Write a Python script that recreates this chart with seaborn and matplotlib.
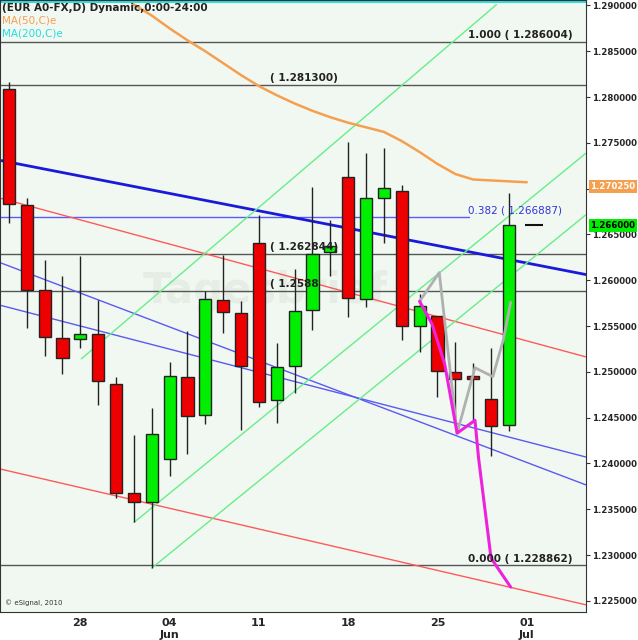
import matplotlib
matplotlib.use("Agg")
import matplotlib.pyplot as plt
import seaborn as sns
import numpy as np
import pandas as pd

sns.set_style("white")
plt.rcParams['font.family'] = ['DejaVu Sans']

opens  = [1.28088,1.26821,1.25890,1.25370,1.25359,1.25413,1.24872,1.23681,1.23583,1.24049,1.24948,1.24525,1.25782,1.25641,1.26410,
          1.24688,1.25067,1.25673,1.26312,1.27125,1.25792,1.26897,1.26973,1.25500,1.25608,1.25002,1.24926,1.24699,1.24417,1.26600]
closes = [1.26832,1.25890,1.25381,1.25154,1.25413,1.24904,1.23681,1.23583,1.24320,1.24959,1.24515,1.25792,1.25652,1.25067,1.24666,
          1.25056,1.25663,1.26291,1.26377,1.25803,1.26897,1.27005,1.25500,1.25717,1.25013,1.24926,1.24926,1.24406,1.26600,1.26600]
highs  = [1.28164,1.26897,1.26226,1.26052,1.26269,1.25782,1.24948,1.24309,1.24601,1.25110,1.25446,1.25879,1.26280,1.25771,1.26713,
          1.25316,1.26128,1.27016,1.26659,1.27514,1.27385,1.27439,1.27038,1.25847,1.25348,1.25327,1.25099,1.25262,1.26951,1.26600]
lows   = [1.26626,1.25478,1.25175,1.24980,1.25262,1.24634,1.23626,1.23356,1.22858,1.23865,1.24103,1.24428,1.25424,1.24363,1.24612,
          1.24439,1.24764,1.25457,1.26044,1.25598,1.25706,1.26410,1.25348,1.25219,1.24731,1.24460,1.24471,1.24081,1.24352,1.26600]

ma50_idx = list(range(7, 30))
ma50 = [1.2901,1.2889,1.2875,1.2862,1.2850,1.2837,1.2824,1.2812,1.2802,1.2793,1.2785,1.2778,1.2772,
        1.2767,1.2762,1.2752,1.2740,1.2727,1.2716,1.2710,1.2709,1.2708,1.2707]

tick_idx = [4, 9, 14, 19, 24, 29]
tick_labels = ["28", "04\nJun", "11", "18", "25", "01\nJul"]
yticks = [1.225 + 0.005*i for i in range(14)]

levels = [1.286004, 1.2813, 1.262844, 1.2588, 1.228862]
level_labels = ["1.000 ( 1.286004)", "( 1.281300)", "( 1.262844)", "( 1.2588", "0.000 ( 1.228862)"]
level_label_x = [25.7, 14.6, 14.6, 14.6, 25.7]
fib382 = 1.266887

blue_thick = (-0.5, 1.27309, 32.3, 1.26063)
red_lines = [(-0.5, 1.26897, 32.3, 1.25164), (-0.5, 1.23940, 32.3, 1.22457)]
blue_thin = [(-0.5, 1.26193, 32.3, 1.23767), (-0.5, 1.25728, 32.3, 1.24071)]
green_lines = [(4.06, 1.25143, 27.3, 1.29009), (7.0, 1.23356, 32.3, 1.27385), (8.0, 1.22858, 32.3, 1.26713)]
gray_zz_x = [23.0, 24.1, 25.1, 26.1, 27.1, 27.7, 28.1]
gray_zz_y = [1.25770, 1.26084, 1.24331, 1.25045, 1.24948, 1.25359, 1.25760]
mag_x = [23.0, 23.7, 24.4, 25.1, 26.1, 26.3, 27.0, 28.1]
mag_y = [1.25770, 1.25521, 1.25088, 1.24331, 1.24471, 1.24060, 1.22966, 1.22650]

YLO, YHI = 1.2238, 1.2906

fig = plt.figure(figsize=(6.38, 6.40), dpi=100)
fig.patch.set_facecolor("#ffffff")
ax = fig.add_axes([0.0, 0.044, 0.918, 0.956])
ax.set_facecolor("#f1f8f1")

x = np.arange(len(opens))
for lv in levels:
    ax.axhline(lv, color="#555555", lw=1.0, zorder=1)
ax.axhline(fib382, xmax=0.80, color="#5a5aff", lw=1.0, zorder=1)
ax.axhline(1.2904, color="#33dddd", lw=1.5, zorder=1)

def seg(s, **kw):
    ax.plot([s[0], s[2]], [s[1], s[3]], **kw)
seg(blue_thick, color="#1a1ad8", lw=2, zorder=2)
for s in red_lines: seg(s, color="#ff5a5a", lw=1, zorder=2)
for s in blue_thin: seg(s, color="#5a5af0", lw=1, zorder=2)
for s in green_lines: seg(s, color="#66ee88", lw=1, zorder=2)

df = pd.DataFrame({"i": ma50_idx, "ma": ma50})
sns.lineplot(data=df, x="i", y="ma", ax=ax, color="#f5a050", lw=1.8, zorder=2)

ax.vlines(x, lows, highs, color="#222222", lw=1, zorder=3)
o = np.array(opens); c = np.array(closes)
cols = ["#00ee00" if cc > oo else "#ee0000" for oo, cc in zip(o, c)]
body_h = np.abs(c - o)
body_h = np.where(body_h < 0.0003, 0.0003, body_h)
ax.bar(x[:-1], body_h[:-1], bottom=np.minimum(o, c)[:-1], width=0.68, color=cols[:-1],
       edgecolor="#222222", lw=1, zorder=4)
ax.hlines(closes[-1], x[-1]-0.1, x[-1]+0.9, color="#111111", lw=1.5, zorder=4)

ax.plot(gray_zz_x, gray_zz_y, color="#b0b0b0", lw=2, zorder=5)
ax.plot(mag_x, mag_y, color="#ee22dd", lw=2.2, zorder=5)

for lv, lb, lx in zip(levels, level_labels, level_label_x):
    ax.text(lx, lv + 0.0002, lb, fontsize=7.5, fontweight="bold", color="#222222", va="bottom", zorder=6)
ax.text(25.7, fib382 + 0.0002, "0.382 ( 1.266887)", fontsize=7.5, color="#3333dd", va="bottom", zorder=6)

ax.text(-0.4, 1.2903, "(EUR A0-FX,D) Dynamic,0:00-24:00", fontsize=7.5, fontweight="bold", color="#222222", va="top")
ax.text(-0.4, 1.2889, "MA(50,C)e", fontsize=7.5, color="#f5a050", va="top")
ax.text(-0.4, 1.2875, "MA(200,C)e", fontsize=7.5, color="#22dddd", va="top")
ax.text(-0.2, 1.2245, "© eSignal, 2010", fontsize=5, color="#333333")
ax.text(7.5, 1.2575, "Tagesbrief", fontsize=30, fontweight="bold", color="#e4ece4", alpha=0.9, zorder=0)

ax.set_xlim(-0.5, 32.3)
ax.set_ylim(YLO, YHI)
ax.set_xticks(tick_idx)
ax.set_xticklabels(tick_labels, fontsize=8, fontweight="bold")
ax.yaxis.tick_right()
ax.set_yticks(yticks)
ax.set_yticklabels(["" if abs(v - 1.27) < 1e-9 else f"{v:.6f}" for v in yticks], fontsize=6.2, fontweight="bold")
ax.tick_params(axis="both", length=3, color="#333333", pad=1.5)
ax.set_xlabel(""); ax.set_ylabel("")
for sp in ax.spines.values():
    sp.set_color("#333333")

for val, txt, fc in [(1.27025, "1.270250", "#f5a050"), (1.2660, "1.266000", "#00ee00")]:
    ax.text(1.008, (val - YLO) / (YHI - YLO), txt, transform=ax.transAxes, fontsize=6.2,
            fontweight="bold", color="white" if fc == "#f5a050" else "black", va="center", ha="left",
            bbox=dict(boxstyle="square,pad=0.2", fc=fc, ec="none"))

fig.savefig("out.png", dpi=100)
